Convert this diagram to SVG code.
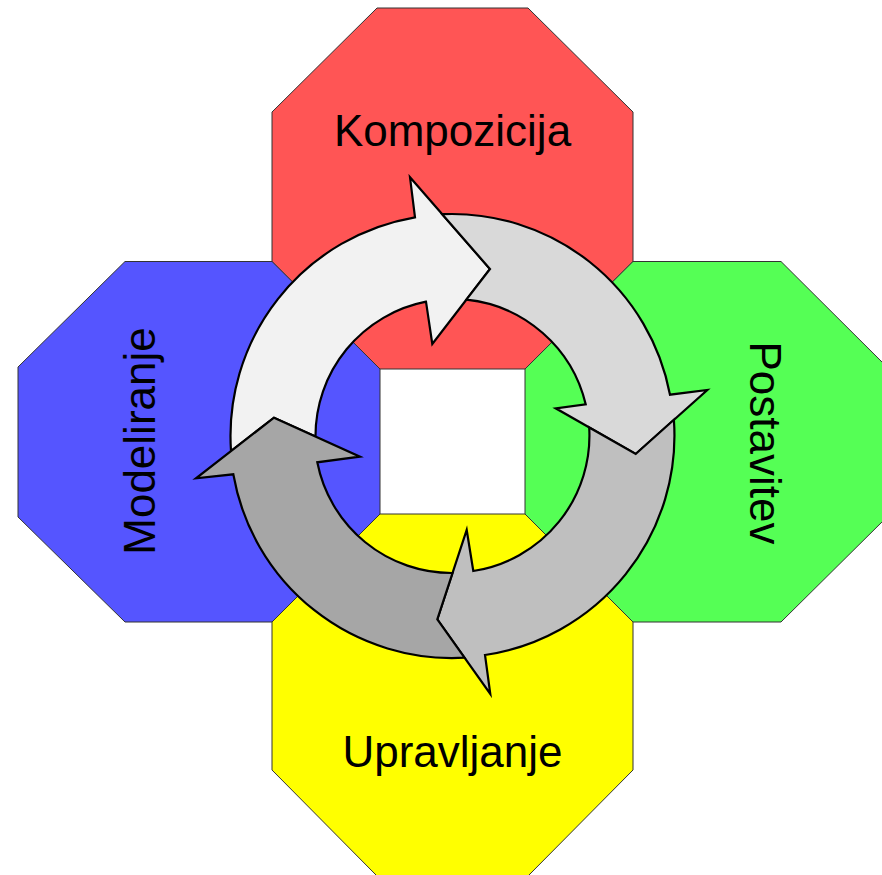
<svg xmlns="http://www.w3.org/2000/svg" width="882" height="875" viewBox="0 0 882 875">
  <style>
    .oct { stroke: #333333; stroke-width: 1; stroke-linejoin: miter; }
    .label { font-family: "Liberation Sans", Arial, sans-serif; font-size: 44px; fill: #000000; text-anchor: middle; }
    .arrow { stroke: #000000; stroke-width: 2.2; stroke-linejoin: miter; stroke-miterlimit: 10; }
  </style>
  <rect x="0" y="0" width="882" height="875" fill="#ffffff"/>

  <!-- four phase blocks arranged around the central square -->
  <g id="kompozicija">
    <polygon class="oct" fill="#FF5555" points="377,8 528,8 633,112 633,261.5 525,369 380,369 272,261.5 272,112"/>
    <text class="label" x="452.5" y="146">Kompozicija</text>
  </g>
  <g id="modeliranje">
    <polygon class="oct" fill="#5555FF" points="18,367 125,261.5 272,261.5 380,369 380,514 272,622 125,622 18,517"/>
    <text class="label" transform="translate(154.5,441) rotate(-90)" x="0" y="0">Modeliranje</text>
  </g>
  <g id="postavitev">
    <polygon class="oct" fill="#55FF55" points="525,369 633,261.5 781,261.5 887,367 887,517 781,622 633,622 525,514"/>
    <text class="label" transform="translate(749.5,443) rotate(90)" x="0" y="0">Postavitev</text>
  </g>
  <g id="upravljanje">
    <polygon class="oct" fill="#FFFF00" points="380,514 525,514 633,622 633,770 528,876 377,876 272,770 272,622"/>
    <text class="label" x="452.5" y="767">Upravljanje</text>
  </g>

  <!-- circular cycle of four arrows; each tail is notched to fit under the previous head -->
  <g id="connectors">
    <path id="arrow-1" class="arrow" fill="#F2F2F2"
          d="M315.5,436.5 L274,417.7 L231,451.1 A222,222 0 0 1 415,217.3 L410,177.3 L490,269 L432.3,344 L426,301.7 A137,137 0 0 0 315.5,436.5 Z"/>
    <path id="arrow-2" class="arrow" fill="#D9D9D9"
          d="M466.4,299.7 L490,269 L442.2,214.2 A222,222 0 0 1 670,394.7 L707.3,390 L635.7,454 L555.7,408.3 L585.7,404.3 A137,137 0 0 0 466.4,299.7 Z"/>
    <path id="arrow-3" class="arrow" fill="#BFBFBF"
          d="M589.2,427.5 L635.7,454 L673.9,419.8 A222,222 0 0 1 485,655 L490.3,694 L437.3,619.3 L466.7,530 L473.3,571 A137,137 0 0 0 589.2,427.5 Z"/>
    <path id="arrow-4" class="arrow" fill="#A6A6A6"
          d="M452.5,573 L437.3,619.3 L464.5,657.7 A222,222 0 0 1 233.3,474.3 L196,478.3 L274,417.7 L360,456.7 L317.3,462.3 A137,137 0 0 0 452.5,573 Z"/>
  </g>
</svg>
